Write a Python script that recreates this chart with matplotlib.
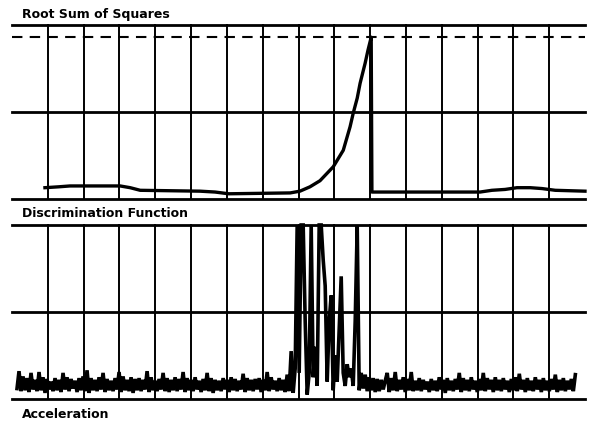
import numpy as np
import matplotlib
matplotlib.use("Agg")
import matplotlib.pyplot as plt

plt.rcParams['font.family'] = ['DejaVu Sans']

# chart grid: 16 divisions across, 2 divisions tall per panel
grid_x = np.arange(1, 16)
grid_y = [0, 1, 2]
threshold = 1.86

# root sum of squares trace (x in divisions, y in divisions)
rss_x = [0.92, 1.30, 1.62, 3.02, 3.30, 3.58, 5.25, 5.67, 6.05, 7.77, 8.04,
         8.32, 8.60, 8.97, 9.25, 9.44, 9.53, 9.64, 9.72, 9.86, 9.94, 10.03,
         10.05, 13.07, 13.40, 13.77, 14.10, 14.47, 14.80, 15.17, 16.0]
rss_y = [0.13, 0.14, 0.15, 0.15, 0.13, 0.10, 0.09, 0.08, 0.06, 0.07, 0.09,
         0.14, 0.21, 0.37, 0.56, 0.83, 0.99, 1.16, 1.33, 1.56, 1.71, 1.86,
         0.08, 0.08, 0.10, 0.11, 0.13, 0.13, 0.12, 0.10, 0.09]

# acceleration samples left to right
accel = [
    0.12, 0.32, 0.09, 0.26, 0.10, 0.24, 0.08, 0.30, 0.11, 0.22, 0.09, 0.31, 0.10, 0.25, 0.07, 0.23, 0.11, 0.20, 0.09, 0.24,
    0.10, 0.22, 0.08, 0.30, 0.11, 0.25, 0.09, 0.23, 0.12, 0.21, 0.08, 0.24, 0.10, 0.26, 0.09, 0.33, 0.07, 0.24, 0.10, 0.22,
    0.09, 0.25, 0.11, 0.30, 0.08, 0.23, 0.10, 0.21, 0.09, 0.24, 0.11, 0.31, 0.08, 0.26, 0.10, 0.22, 0.09, 0.25, 0.07, 0.23,
    0.10, 0.24, 0.09, 0.22, 0.11, 0.32, 0.08, 0.25, 0.10, 0.21, 0.09, 0.23, 0.11, 0.30, 0.09, 0.24, 0.08, 0.22, 0.10, 0.25,
    0.09, 0.23, 0.11, 0.31, 0.08, 0.24, 0.10, 0.22, 0.09, 0.25, 0.11, 0.21, 0.08, 0.23, 0.10, 0.30, 0.09, 0.24, 0.07, 0.22,
    0.10, 0.21, 0.09, 0.24, 0.11, 0.22, 0.08, 0.25, 0.10, 0.23, 0.09, 0.21, 0.11, 0.29, 0.08, 0.24, 0.10, 0.22, 0.09, 0.23,
    0.11, 0.24, 0.08, 0.22, 0.10, 0.31, 0.09, 0.25, 0.11, 0.21, 0.09, 0.24, 0.10, 0.22, 0.08, 0.28, 0.09, 0.55, 0.07, 0.35,
    2.00, 0.30, 2.00, 2.00, 0.90, 0.05, 0.30, 2.00, 0.25, 0.60, 0.15, 2.00, 2.00, 1.60, 1.30, 0.20, 0.90, 1.19, 0.10, 0.50,
    0.20, 0.80, 1.41, 0.30, 0.15, 0.40, 0.25, 0.35, 0.15, 0.90, 1.99, 0.10, 0.30, 0.12, 0.28, 0.09, 0.25, 0.10, 0.24, 0.08,
    0.23, 0.09, 0.22, 0.11, 0.21, 0.30, 0.08, 0.24, 0.10, 0.31, 0.09, 0.22, 0.11, 0.25, 0.08, 0.23, 0.10, 0.31, 0.09, 0.21,
    0.10, 0.24, 0.09, 0.22, 0.11, 0.20, 0.08, 0.23, 0.10, 0.21, 0.09, 0.25, 0.11, 0.22, 0.07, 0.24, 0.10, 0.21, 0.09, 0.23,
    0.11, 0.30, 0.08, 0.24, 0.10, 0.22, 0.09, 0.25, 0.11, 0.21, 0.08, 0.23, 0.10, 0.30, 0.09, 0.24, 0.11, 0.22, 0.08, 0.25,
    0.10, 0.22, 0.09, 0.24, 0.11, 0.21, 0.08, 0.23, 0.10, 0.25, 0.09, 0.29, 0.11, 0.22, 0.08, 0.24, 0.10, 0.21, 0.09, 0.25,
    0.11, 0.22, 0.08, 0.24, 0.10, 0.21, 0.09, 0.23, 0.11, 0.28, 0.08, 0.22, 0.10, 0.24, 0.09, 0.21, 0.11, 0.23, 0.09, 0.28,
]
accel_start, accel_end = 0.14, 15.73

W, H = 592, 422
fig = plt.figure(figsize=(W / 100, H / 100), dpi=100)

def px_axes(x0, y0, x1, y1):
    return fig.add_axes([x0 / W, 1 - y1 / H, (x1 - x0) / W, (y1 - y0) / H])

def draw_grid(ax):
    ax.set_xlim(0, 16)
    ax.set_ylim(0, 2)
    ax.axis('off')
    for gy in grid_y:
        ax.axhline(gy, color='black', lw=2.0, clip_on=False)
    for gx in grid_x:
        ax.axvline(gx, color='black', lw=1.4, clip_on=False)

ax1 = px_axes(12, 25, 585, 199)
draw_grid(ax1)
ax1.axhline(threshold, color='black', lw=1.5, dashes=(5, 3.5), clip_on=False)
ax1.plot(rss_x, rss_y, color='black', lw=2.4, solid_joinstyle='round', clip_on=False)

ax2 = px_axes(12, 225, 585, 399)
draw_grid(ax2)
t = np.linspace(accel_start, accel_end, len(accel))
ax2.plot(t, accel, color='black', lw=2.6, solid_joinstyle='miter', clip_on=False)

# panel labels
title_kw = dict(fontsize=9, fontweight='bold', color='black', va='baseline', ha='left')
fig.text(22 / W, 1 - 18 / H, 'Root Sum of Squares', **title_kw)
fig.text(22 / W, 1 - 217 / H, 'Discrimination Function', **title_kw)
fig.text(22 / W, 1 - 418 / H, 'Acceleration', **title_kw)

fig.savefig('out.png', dpi=100, facecolor='white')
